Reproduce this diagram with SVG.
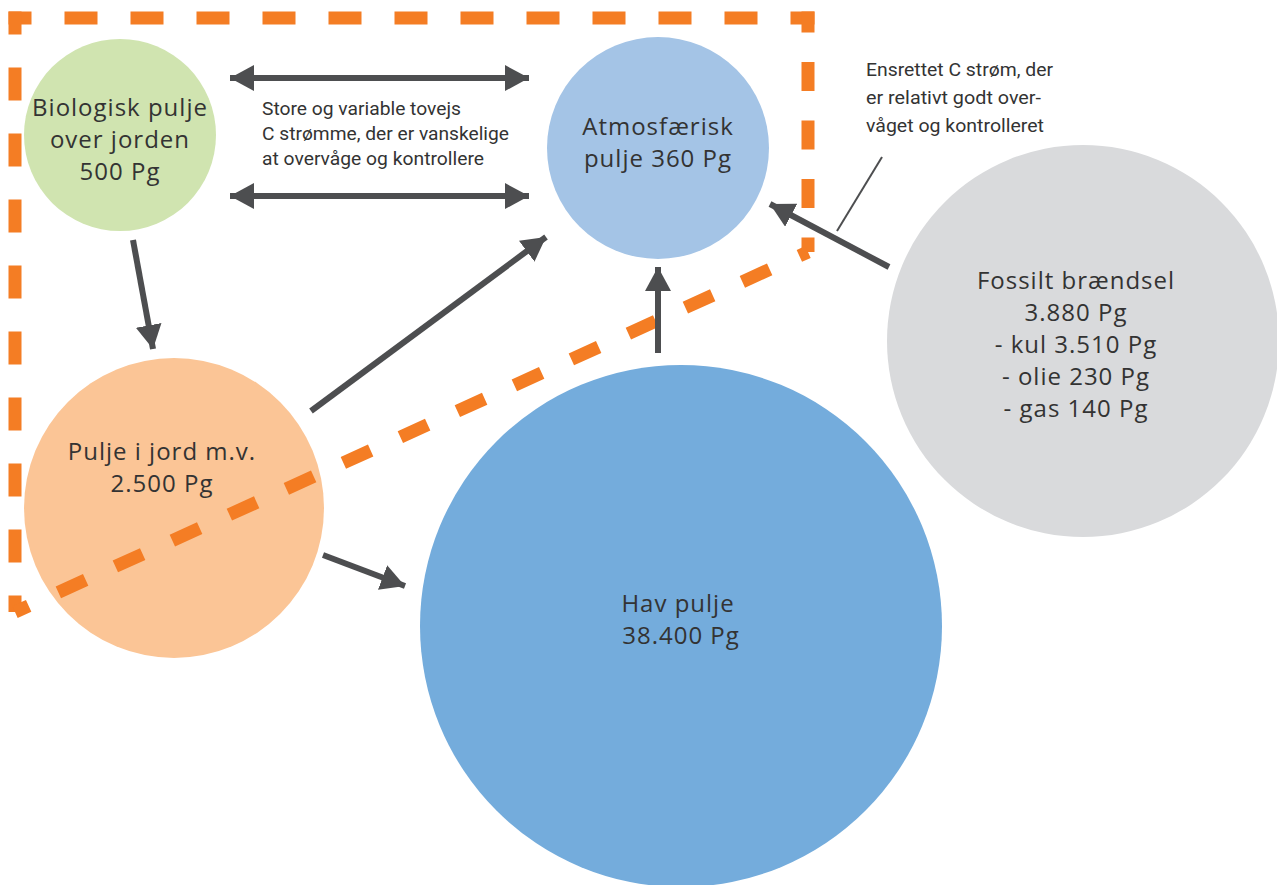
<svg xmlns="http://www.w3.org/2000/svg" width="1277" height="885" viewBox="0 0 1277 885">
  <defs>
    <style>
      .pool { font-family: "Open Sans", "Liberation Sans", sans-serif; font-size: 24px; letter-spacing: 1px; fill: #333333; text-anchor: middle; }
      .note { font-family: "Roboto", "Liberation Sans", sans-serif; font-size: 19px; fill: #333333; }
      .flow { stroke: #4d4e50; stroke-width: 6; fill: none; marker-end: url(#head); }
      .both { marker-start: url(#head); }
      .boundary { stroke: #f47d24; stroke-width: 13; fill: none; }
      .edge { stroke-dasharray: 33 33; stroke-dashoffset: 10; }
      .edge-r { stroke-dasharray: 29 29.5; stroke-dashoffset: 8; }
      .edge-d { stroke-dasharray: 30 32.6; stroke-dashoffset: 15; }
    </style>
    <marker id="head" markerUnits="userSpaceOnUse" markerWidth="26" markerHeight="28" refX="24" refY="13" orient="auto-start-reverse">
      <path d="M0,0 L24,13 L0,26 Z" fill="#4d4e50"/>
    </marker>
  </defs>
  <rect width="1277" height="885" fill="#ffffff"/>

  <!-- carbon pools -->
  <g id="biologisk">
    <circle cx="120" cy="135" r="96" fill="#d0e4b0"/>
    <text class="pool"><tspan x="120" y="116">Biologisk pulje</tspan><tspan x="120" y="148">over jorden</tspan><tspan x="120" y="180">500 Pg</tspan></text>
  </g>
  <g id="atmosfaerisk">
    <circle cx="658" cy="148" r="111" fill="#a4c4e6"/>
    <text class="pool"><tspan x="658" y="135">Atmosfærisk</tspan><tspan x="658" y="167">pulje 360 Pg</tspan></text>
  </g>
  <g id="jord">
    <circle cx="174" cy="508" r="150" fill="#fbc596"/>
    <text class="pool"><tspan x="162" y="460">Pulje i jord m.v.</tspan><tspan x="162" y="492">2.500 Pg</tspan></text>
  </g>
  <g id="hav">
    <circle cx="681" cy="626" r="261" fill="#74acdc"/>
    <text class="pool"><tspan x="678" y="612">Hav pulje</tspan><tspan x="681" y="644">38.400 Pg</tspan></text>
  </g>
  <g id="fossil">
    <circle cx="1083" cy="341" r="196" fill="#d9dadc"/>
    <text class="pool"><tspan x="1076" y="289">Fossilt brændsel</tspan><tspan x="1076" y="321">3.880 Pg</tspan><tspan x="1076" y="353">- kul 3.510 Pg</tspan><tspan x="1076" y="385">- olie 230 Pg</tspan><tspan x="1076" y="417">- gas 140 Pg</tspan></text>
  </g>

  <!-- boundary of the hard-to-monitor exchange, one dashed stroke per side -->
  <g id="boundary" class="boundary">
    <path class="edge" d="M8.5,18 L814.5,18"/>
    <path class="edge" d="M15,11.5 L15,612"/>
    <path class="edge-r" d="M808,11.5 L808,252"/>
    <path class="edge-d" d="M15,612 L808,252"/>
  </g>

  <!-- carbon flows -->
  <g id="connectors">
    <line class="flow both" x1="230" y1="78" x2="529" y2="78"/>
    <line class="flow both" x1="230" y1="196" x2="529" y2="196"/>
    <line class="flow" x1="133" y1="240" x2="153" y2="349"/>
    <line class="flow" x1="311" y1="411" x2="546" y2="237"/>
    <line class="flow" x1="658" y1="353" x2="658" y2="267"/>
    <line class="flow" x1="323" y1="555" x2="405" y2="586"/>
    <line class="flow" x1="889" y1="267" x2="770" y2="204"/>
    <line x1="837" y1="231" x2="882" y2="157" stroke="#4d4e50" stroke-width="2"/>
  </g>

  <!-- annotations -->
  <g id="note-tovejs">
    <text class="note"><tspan x="262" y="115" textLength="199" lengthAdjust="spacingAndGlyphs">Store og variable tovejs</tspan><tspan x="262" y="140" textLength="247" lengthAdjust="spacingAndGlyphs">C strømme, der er vanskelige</tspan><tspan x="262" y="165" textLength="222" lengthAdjust="spacingAndGlyphs">at overvåge og kontrollere</tspan></text>
  </g>
  <g id="note-ensrettet">
    <text class="note"><tspan x="866" y="76" textLength="187" lengthAdjust="spacingAndGlyphs">Ensrettet C strøm, der</tspan><tspan x="866" y="104" textLength="175" lengthAdjust="spacingAndGlyphs">er relativt godt over-</tspan><tspan x="866" y="132" textLength="178" lengthAdjust="spacingAndGlyphs">våget og kontrolleret</tspan></text>
  </g>
</svg>
